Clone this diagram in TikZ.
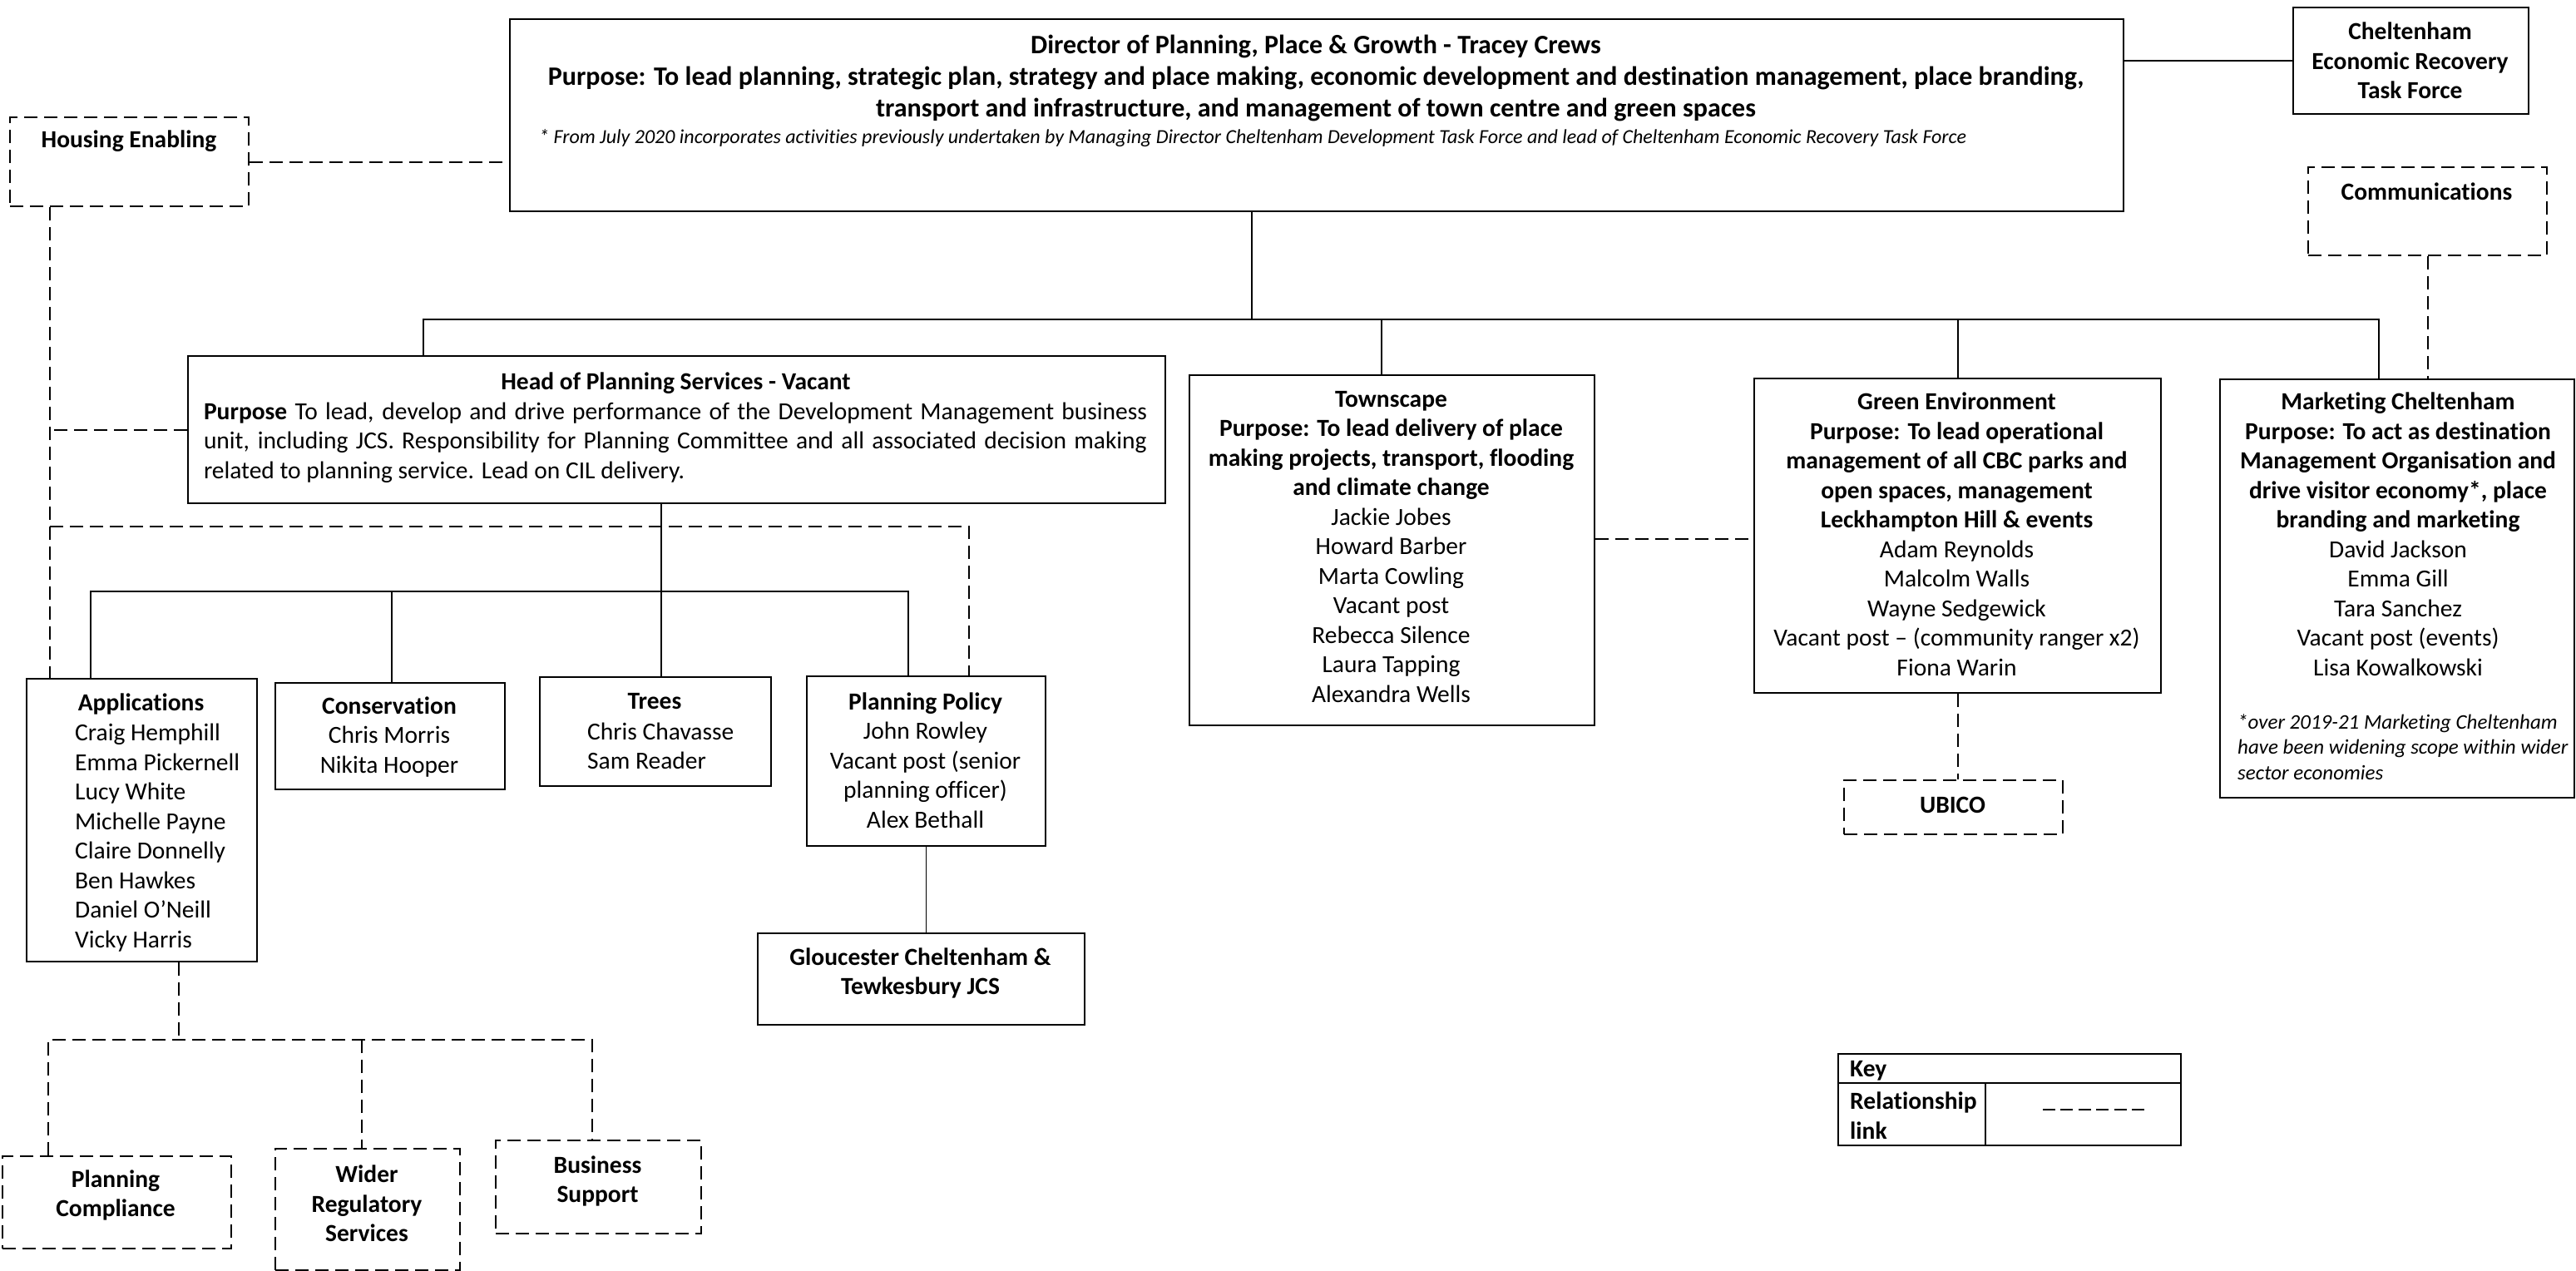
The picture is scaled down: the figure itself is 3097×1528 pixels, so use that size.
\documentclass[tikz,border=0pt]{standalone}
\usepackage{fontspec}
\setmainfont{Carlito}[Ligatures=NoCommon]
\newcommand\bodyfs{\fontsize{29.5pt}{35.5pt}\selectfont}
\newcommand\dirfs{\fontsize{32pt}{38pt}\selectfont}
\newcommand\notefs{\fontsize{24pt}{28pt}\selectfont}
\newcommand\mknotefs{\fontsize{25pt}{30.5pt}\selectfont}
\begin{document}
\begin{tikzpicture}[x=1pt,y=-1pt,
  box/.style={draw, line width=2.2pt, rectangle, inner sep=0pt, anchor=north west},
  dbox/.style={box, dash pattern=on 16pt off 8pt},
  txt/.style={inner sep=0pt, align=center, font=\bodyfs},
  conn/.style={line width=1.5pt},
  dconn/.style={line width=1.8pt, dash pattern=on 16pt off 8pt}]
\useasboundingbox (0,0) rectangle (3097,1528);

% boxes
\node[box, minimum width=1940pt, minimum height=231pt] (dir) at (612,22) {};
\node[box, minimum width=283pt, minimum height=128pt] (certf) at (2756,8) {};
\node[dbox, minimum width=287pt, minimum height=107pt] (house) at (11,140) {};
\node[dbox, minimum width=287pt, minimum height=106pt] (comm) at (2774,200) {};
\node[box, minimum width=1175pt, minimum height=177pt] (head) at (225,427) {};
\node[box, minimum width=487pt, minimum height=421pt] (town) at (1429,450) {};
\node[box, minimum width=489pt, minimum height=378pt] (green) at (2108,454) {};
\node[box, minimum width=426pt, minimum height=503pt] (mkt) at (2668,455) {};
\node[dbox, minimum width=263pt, minimum height=65pt] (ubico) at (2216,937) {};
\node[box, minimum width=277pt, minimum height=340pt] (apps) at (31,815) {};
\node[box, minimum width=276pt, minimum height=128pt] (cons) at (330,820) {};
\node[box, minimum width=278pt, minimum height=131pt] (trees) at (648,813) {};
\node[box, minimum width=287pt, minimum height=204pt] (pp) at (969,812) {};
\node[box, minimum width=393pt, minimum height=110pt] (glou) at (910,1121) {};
\node[dbox, minimum width=275pt, minimum height=111pt] (pc) at (2,1389) {};
\node[dbox, minimum width=222pt, minimum height=146pt] (wrs) at (330,1380) {};
\node[dbox, minimum width=247pt, minimum height=112pt] (bs) at (595,1370) {};
\node[box, minimum width=412pt, minimum height=110pt] (key) at (2209,1266) {};

% texts
\node[txt, font=\dirfs\bfseries] (dirT) at (1582,94) {Director of Planning, Place \& Growth - Tracey Crews\\
Purpose: To lead planning, strategic plan, strategy and place making, economic development and destination management, place branding,\\
transport and infrastructure, and management of town centre and green spaces};
\node[txt, font=\notefs\itshape, anchor=west] (dirN) at (648,166) {* From July 2020 incorporates activities previously undertaken by Managing Director Cheltenham Development Task Force and lead of Cheltenham Economic Recovery Task Force};
\node[txt, font=\bodyfs\bfseries] (certfT) at (2897.5,73) {Cheltenham\\Economic Recovery\\Task Force};
\node[txt, font=\bodyfs\bfseries] (houseT) at (155,170) {Housing Enabling};
\node[txt, font=\bodyfs\bfseries] (commT) at (2917.5,230) {Communications};
\node[txt, font=\bodyfs\bfseries] (headT) at (812.5,461) {Head of Planning Services - Vacant};
\node[txt, text width=1134pt, align=justify] (headP) at (812,532) {\textbf{Purpose} To lead, develop and drive performance of the Development Management business\linebreak unit, including JCS. Responsibility for Planning Committee and all associated decision making\linebreak related to planning service. Lead on CIL delivery.};
\node[txt] (townT) at (1672.5,657.5) {\textbf{Townscape}\\
\textbf{Purpose: To lead delivery of place}\\
\textbf{making projects, transport, flooding}\\
\textbf{and climate change}\\
Jackie Jobes\\Howard Barber\\Marta Cowling\\Vacant post\\Rebecca Silence\\Laura Tapping\\Alexandra Wells};
\node[txt] (greenT) at (2352.5,642) {\textbf{Green Environment}\\
\textbf{Purpose: To lead operational}\\
\textbf{management of all CBC parks and}\\
\textbf{open spaces, management}\\
\textbf{Leckhampton Hill \& events}\\
Adam Reynolds\\Malcolm Walls\\Wayne Sedgewick\\Vacant post – (community ranger x2)\\Fiona Warin};
\node[txt] (mktT) at (2883,642) {\textbf{Marketing Cheltenham}\\
\textbf{Purpose: To act as destination}\\
\textbf{Management Organisation and}\\
\textbf{drive visitor economy*, place}\\
\textbf{branding and marketing}\\
David Jackson\\Emma Gill\\Tara Sanchez\\Vacant post (events)\\Lisa Kowalkowski};
\node[txt, font=\mknotefs\itshape, align=left, anchor=west] (mktN) at (2690,898) {*over 2019-21 Marketing Cheltenham\\have been widening scope within wider\\sector economies};
\node[txt, font=\bodyfs\bfseries] (ubicoT) at (2347.5,968) {UBICO};
\node[txt, font=\bodyfs\bfseries] (appsT) at (169.5,846) {Applications};
\node[txt, align=left, anchor=west] (appsN) at (90,1007) {Craig Hemphill\\Emma Pickernell\\Lucy White\\Michelle Payne\\Claire Donnelly\\Ben Hawkes\\Daniel O’Neill\\Vicky Harris};
\node[txt] (consT) at (468,886) {\textbf{Conservation}\\Chris Morris\\Nikita Hooper};
\node[txt, font=\bodyfs\bfseries] (treesT) at (787,843) {Trees};
\node[txt, align=left, anchor=west] (treesN) at (706,897) {Chris Chavasse\\Sam Reader};
\node[txt] (ppT) at (1112.5,914) {\textbf{Planning Policy}\\John Rowley\\Vacant post (senior\\planning officer)\\Alex Bethall};
\node[txt, font=\bodyfs\bfseries] (glouT) at (1106.5,1170) {Gloucester Cheltenham \&\\Tewkesbury JCS};
\node[txt, font=\bodyfs\bfseries] (pcT) at (139,1437) {Planning\\Compliance};
\node[txt, font=\bodyfs\bfseries] (wrsT) at (441,1447) {Wider\\Regulatory\\Services};
\node[txt, font=\bodyfs\bfseries] (bsT) at (718.5,1420) {Business\\Support};
\node[txt, font=\bodyfs\bfseries, anchor=west] (keyT) at (2224,1287) {Key};
\node[txt, font=\bodyfs\bfseries, align=left, anchor=west] (relT) at (2224,1341) {Relationship\\link};

% key table lines
\coordinate (krow) at (2209,1302);
\coordinate (kcol) at (2387,1302);
\draw[line width=2.2pt] (krow) -- (krow -| key.east);
\draw[line width=2.2pt] (kcol) -- (kcol |- key.south);
\coordinate (kd1) at (2456,1334);
\coordinate (kd2) at (2578,1334);
\draw[line width=1.8pt, dash pattern=on 15pt off 6.4pt] (kd1) -- (kd2);

% solid connectors
\draw[conn] (certf.west) -- (certf.west -| dir.east);
\coordinate (bus) at (1505,384);
\coordinate (busL) at (509,384);
\coordinate (busR) at (2860,384);
\coordinate (tdrop) at (1661,384);
\coordinate (gdrop) at (2354,384);
\draw[conn] (dir.south -| bus) -- (bus);
\draw[conn] (busL |- head.north) -- (busL) -- (busR) -- (busR |- mkt.north);
\draw[conn] (tdrop) -- (tdrop |- town.north);
\draw[conn] (gdrop) -- (gdrop |- green.north);
\coordinate (hb) at (795,711);
\coordinate (b2L) at (109,711);
\coordinate (b2R) at (1092,711);
\coordinate (cdrop) at (471,711);
\draw[conn] (head.south -| hb) -- (hb) -- (hb |- trees.north);
\draw[conn] (apps.north -| b2L) -- (b2L) -- (b2R) -- (b2R |- pp.north);
\draw[conn] (cdrop) -- (cdrop |- cons.north);
\draw[conn] (pp.south) -- (pp.south |- glou.north);

% dashed connectors
\coordinate (hv) at (60,247);
\coordinate (pd) at (1165,633);
\draw[dconn] (house.east) -- (house.east -| dir.west);
\draw[dconn] (house.south -| hv) -- (hv |- apps.north);
\draw[dconn] (head.west) -- (head.west -| hv);
\draw[dconn] (hv |- pd) -- (pd) -- (pd |- pp.north);
\draw[dconn] ([yshift=14pt]town.east) -- ([yshift=14pt]town.east -| green.west);
\draw[dconn] (green.south) -- (green.south |- ubico.north);
\draw[dconn] (comm.south) -- (comm.south |- mkt.north);
\coordinate (ab) at (215,1250);
\coordinate (abL) at (58,1250);
\coordinate (abM) at (435,1250);
\coordinate (abR) at (712,1250);
\draw[dconn] (apps.south -| ab) -- (ab);
\draw[dconn] (pc.north -| abL) -- (abL) -- (abR) -- (abR |- bs.north);
\draw[dconn] (abM) -- (abM |- wrs.north);
\end{tikzpicture}
\end{document}
